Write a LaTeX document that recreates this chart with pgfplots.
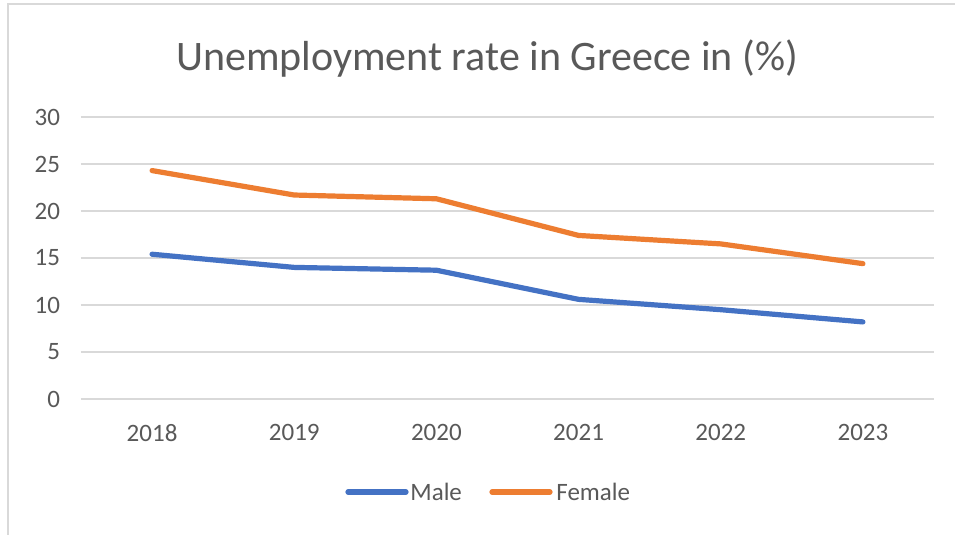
\documentclass[border=0pt]{standalone}
\usepackage{pgfplots}
\pgfplotsset{compat=1.18}
\usepackage{fontspec}
\setmainfont{Carlito}
\definecolor{txt}{HTML}{595959}
\definecolor{gridc}{HTML}{D9D9D9}
\definecolor{mblue}{HTML}{4472C4}
\definecolor{forange}{HTML}{ED7D31}
\begin{document}
\begin{tikzpicture}
\useasboundingbox (0,0) rectangle (477.5pt,267.5pt);
\fill[white] (0,0) rectangle (477.5pt,267.5pt);
\draw[gridc, line width=1pt] (4pt,0) -- (4pt,265.5pt) -- (477.5pt,265.5pt);
\begin{axis}[
  at={(40.5pt,68pt)}, anchor=south west,
  scale only axis, width=426.5pt, height=141pt,
  xmin=-0.5, xmax=5.5, ymin=0, ymax=30,
  xtick={0,1,2,3,4,5},
  xticklabels={2018,2019,2020,2021,2022,2023},
  ytick={0,5,10,15,20,25,30},
  axis line style={draw=none},
  major tick length=0pt,
  ymajorgrids, grid style={gridc, line width=0.9pt},
  tick label style={font=\fontsize{12.5}{14}\selectfont, text=txt},
  /pgf/number format/assume math mode=true,
  xticklabel style={yshift=-9pt},
  yticklabel style={xshift=-7pt},
  clip=false,
]
\addplot[mblue, line width=2.6pt, line cap=round, line join=round] coordinates {
(0,15.4) (1,14.0) (2,13.7) (3,10.6) (4,9.5) (5,8.2)};
\addplot[forange, line width=2.6pt, line cap=round, line join=round] coordinates {
(0,24.3) (1,21.7) (2,21.3) (3,17.4) (4,16.5) (5,14.4)};
\end{axis}
\node[text=txt, font=\fontsize{21}{25}\selectfont] at (243.5pt,238pt) {Unemployment rate in Greece in (\%)};
\draw[mblue, line width=2.6pt, line cap=round] (174pt,21.5pt) -- (203pt,21.5pt);
\node[text=txt, font=\fontsize{12.5}{14}\selectfont, anchor=west, inner sep=0pt] at (205pt,21.5pt) {Male};
\draw[forange, line width=2.6pt, line cap=round] (246pt,21.5pt) -- (275pt,21.5pt);
\node[text=txt, font=\fontsize{12.5}{14}\selectfont, anchor=west, inner sep=0pt] at (278pt,21.5pt) {Female};
\end{tikzpicture}
\end{document}
